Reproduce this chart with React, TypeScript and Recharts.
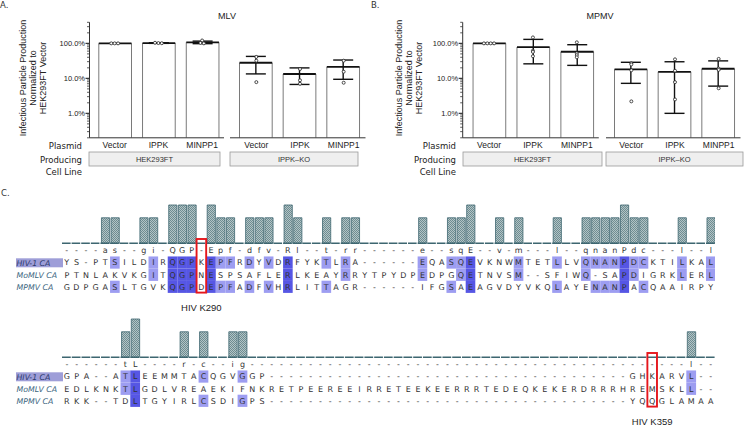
import React from "react";
import { Bar, BarChart, ComposedChart, ErrorBar, Line, XAxis, YAxis } from "recharts";

// ---------- A / B: infectious particle production (% of HEK293FT vector) ----------
const CATS = ["Vector", "IPPK", "MINPP1"];

const mlvHekMean = [100, 102, 107];
const mlvHekSd = [0, 2, 9];
const mlvHekReps = [[100, 100, 100], [104, 102, 101], [121, 103, 100]];
const mlvKoMean = [27.9, 13.3, 21.4];
const mlvKoSd = [14.5, 6.6, 12];
const mlvKoReps = [[41, 32, 7.8], [18.5, 8.8, 7], [32, 15.5, 7.5]];

const mpmvHekMean = [100, 78, 57.5];
const mpmvHekSd = [0, 52, 34];
const mpmvHekReps = [[100, 100, 100, 100], [148, 62, 57, 43], [107, 52, 46, 40]];
const mpmvKoMean = [18, 15.4, 18.8];
const mpmvKoSd = [10.8, 14.4, 12.8];
const mpmvKoReps = [[27, 25, 17, 2.2], [35, 16.5, 7.8, 2.5], [36, 19, 17.5, 5.2]];

const Y_TICKS = [
  0.2, 0.3, 0.4, 0.5, 0.6, 0.7, 0.8, 0.9, 1, 2, 3, 4, 5, 6, 7, 8, 9, 10, 20, 30, 40, 50, 60, 70,
  80, 90, 100, 200, 300, 400,
];
const Y_MAJOR = [1, 10, 100];

// ---------- C: capsid alignment ----------
const cons1 = "----as--gi-QGP-Epf-dfv-Rl--t-rr------e--sqE--v-m---l--qnanPdc---l--l";
const hiv1 = "YS-PTSILDIRQGPKEPFRDYVDRFYKTLRA------EQASQEVKNWMTETLLVQNANPDCKTILKAL";
const momlv1 = "PTNLAKVKGITQGPNESPSAFLERLKEAYRRYTPYDPEDPGQETNVSM--SFIWQ-SAPDIGRKLERL";
const mpmv1 = "GDPGASLTGVKQGPDEPFADFVHRLITTAGR------IFGSAEAGVDYVKQLAYENANPACQAAIRPY";
const cons1Height = "0000220022" + "0333032202" + "2203200202" + "2000000200" + "2230020200" + "0200222232" + "20002002";

const cons2 = "------tL----r-c--ig" + "----------" + "----------" + "----------" + "----------" + "-----" + "l--";
const hiv2 = "GPA--ATLEEMMTACQGVGGP" + "----------" + "----------" + "----------" + "-------" + "GHKARVL--";
const momlv2 = "EDLKNKTLGDLVREAEKIFNKRETPEEREEIRRETEEKEERRRTEDEQKEKERDRRRHREMSKLL--";
const mpmv2 = "RKK--TDLTGYIRLCSDIGPS" + "----------" + "----------" + "----------" + "-------" + "YQQGLAMAA";
const cons2Height = "0000002300" + "0020200220" + "0000000000" + "0000000000" + "0000000000" + "0000000000" + "0000200";

const SEQ_NAMES = ["HIV-1 CA", "MoMLV CA", "MPMV CA"];

const SANS = "'Liberation Sans', Arial, sans-serif";
const VERD = "'DejaVu Sans', Verdana, sans-serif";
const DARK = "#5656e4";
const LIGHT = "#9d9df1";

function buildRows(mean: number[], sd: number[], reps: number[][]) {
  return CATS.map((cat, i) => {
    const row: Record<string, any> = { cat, mean: mean[i], sd: sd[i], reps: reps[i] };
    reps[i].forEach((v, k) => (row["r" + k] = v));
    return row;
  });
}

// spread replicates that sit on the same value side by side
function dodge(vals: number[], k: number) {
  const v = vals[k];
  const near = vals
    .map((u, j) => ({ u, j }))
    .filter((o) => Math.abs(Math.log10(o.u) - Math.log10(v)) < 0.02);
  const pos = near.findIndex((o) => o.j === k);
  return (pos - (near.length - 1) / 2) * 3.4;
}

const makeDot = (k: number) => (p: any) => {
  if (p.cx == null || p.cy == null || p.value == null) return <g key={p.key} />;
  const dx = dodge(p.payload.reps, k);
  return (
    <circle key={p.key} cx={p.cx + dx} cy={p.cy} r={1.5} fill="#fff" stroke="#222" strokeWidth={0.8} />
  );
};

const barShape = (p: any) => {
  const { x, y, width, height } = p;
  return (
    <g>
      <rect x={x} y={y} width={width} height={height} fill="#fff" />
      <line x1={x} y1={y} x2={x} y2={y + height} stroke="#7a7a7a" strokeWidth={1} />
      <line x1={x + width} y1={y} x2={x + width} y2={y + height} stroke="#7a7a7a" strokeWidth={1} />
      <line x1={x} y1={y} x2={x + width} y2={y} stroke="#111" strokeWidth={1.8} />
    </g>
  );
};

const yTick = (p: any) => {
  const { x, y, payload } = p;
  const v = payload.value as number;
  const major = Y_MAJOR.includes(v);
  return (
    <g>
      <line x1={x - (major ? 4 : 2.5)} x2={x} y1={y} y2={y} stroke="#333" strokeWidth={major ? 1.2 : 0.8} />
      {major && (
        <text x={x - 4.5} y={y} dy="0.35em" textAnchor="end" fontSize={7.5} fontFamily={SANS} fill="#222">
          {v.toFixed(1)}%
        </text>
      )}
    </g>
  );
};

const catTick = (p: any) => (
  <text x={p.x} y={p.y + 10.3} textAnchor="middle" fontSize={8.5} fontFamily={SANS} fill="#222">
    {p.payload.value}
  </text>
);

function GroupPlot({ rows, left, width, axisW, padLeft }: { rows: any[]; left: number; width: number; axisW: number; padLeft: number }) {
  const nReps = Math.max(...rows.map((r) => r.reps.length));
  return (
    <div style={{ position: "absolute", left, top: 0 }}>
      <ComposedChart width={width} height={160} data={rows} margin={{ top: 22.3, right: 0, bottom: 0, left: 0 }}>
        <XAxis
          dataKey="cat"
          height={22.2}
          padding={{ left: padLeft, right: 0 }}
          axisLine={{ stroke: "#333" }}
          tickLine={false}
          tickSize={0}
          tickMargin={0}
          interval={0}
          tick={catTick}
        />
        <YAxis
          hide={axisW === 0}
          width={axisW}
          scale="log"
          domain={[0.2, 400]}
          allowDataOverflow
          ticks={Y_TICKS}
          interval={0}
          tickSize={0}
          tickMargin={0}
          tickLine={false}
          axisLine={{ stroke: "#333" }}
          tick={yTick}
        />
        <Bar dataKey="mean" barSize={32.7} shape={barShape} isAnimationActive={false}>
          <ErrorBar dataKey="sd" width={10} stroke="#111" strokeWidth={1.4} direction="y" isAnimationActive={false} />
        </Bar>
        {Array.from({ length: nReps }, (_, k) => (
          <Line
            key={k}
            dataKey={"r" + k}
            stroke="none"
            dot={makeDot(k)}
            activeDot={false}
            isAnimationActive={false}
          />
        ))}
      </ComposedChart>
    </div>
  );
}

function matchLevel(seqs: string[], r: number, i: number) {
  const ref = seqs[0][i];
  if (ref === "-" || seqs[r][i] !== ref) return 0;
  const n = seqs.filter((s) => s[i] === ref).length;
  return n >= 2 ? n : 0;
}

const ROW_H = [13, 12.5, 12, 12];

function AlignBlock({ top, cons, seqs, heights, mark, markLabel, pid }: { top: number; cons: string; seqs: string[]; heights: string; mark: number; markLabel: string; pid: string }) {
  const W = 653.6;
  const bw = W / cons.length;
  const data = heights.split("").map((h, i) => ({ i, h: Number(h) }));

  const consTick = (p: any) => (
    <text x={p.x} y={p.y + ROW_H[0] / 2} dy="0.35em" textAnchor="middle" fontSize={8} fontFamily={VERD} fill="#333">
      {cons[p.payload.value]}
    </text>
  );
  const seqTick = (r: number) => (p: any) => {
    const i = p.payload.value as number;
    const h = ROW_H[r + 1];
    const lvl = matchLevel(seqs, r, i);
    return (
      <g>
        {lvl > 0 && (
          <rect x={p.x - bw / 2} y={p.y + h / 2 - 6.1} width={bw} height={12.2} fill={lvl === 3 ? DARK : LIGHT} />
        )}
        <text x={p.x} y={p.y + h / 2} dy="0.35em" textAnchor="middle" fontSize={8} fontFamily={VERD} fill="#333">
          {seqs[r][i]}
        </text>
      </g>
    );
  };
  const markTick = (p: any) => {
    if (p.payload.value !== mark) return <g />;
    return (
      <g>
        <rect x={p.x - 4.8} y={p.y - 53.8} width={9.6} height={53.6} fill="none" stroke="#e5161c" strokeWidth={1.9} />
        <text x={p.x} y={p.y + 15} dy="0.35em" textAnchor="middle" fontSize={9.5} fontFamily={SANS} fill="#222">
          {markLabel}
        </text>
      </g>
    );
  };

  // axis ids sort alphabetically when stacked, so they carry an order prefix
  return (
    <div style={{ position: "absolute", left: 61.9, top }}>
      <BarChart width={W} height={115.8} data={data} margin={{ top: 5, right: 0, bottom: 22, left: 0 }}>
        <defs>
          <pattern id={pid} width="2" height="2" patternUnits="userSpaceOnUse">
            <rect width="2" height="2" fill="#b3c4c6" />
            <rect width="1" height="1" fill="#6e8c91" />
            <rect x="1" y="1" width="1" height="1" fill="#6e8c91" />
          </pattern>
        </defs>
        <YAxis hide domain={[0, 3]} />
        <Bar xAxisId="a0cons" dataKey="h" barSize={bw - 1.4} fill={`url(#${pid})`} stroke="#3d6670" strokeWidth={0.8} isAnimationActive={false} />
        <XAxis
          xAxisId="a0cons"
          dataKey="i"
          height={ROW_H[0]}
          axisLine={{ stroke: "#3d6670", strokeWidth: 1.6, strokeDasharray: `${bw - 1} 1` }}
          tickLine={false}
          tickSize={0}
          tickMargin={0}
          interval={0}
          tick={consTick}
        />
        {seqs.map((_, r) => (
          <XAxis
            key={r}
            xAxisId={"a" + (r + 1) + "seq"}
            dataKey="i"
            height={ROW_H[r + 1]}
            axisLine={false}
            tickLine={false}
            tickSize={0}
            tickMargin={0}
            interval={0}
            tick={seqTick(r)}
          />
        ))}
        <XAxis xAxisId="a9mark" dataKey="i" height={1} axisLine={false} tickLine={false} tickSize={0} tickMargin={0} interval={0} tick={markTick} />
      </BarChart>
    </div>
  );
}

function SideText({ ox }: { ox: number }) {
  return (
    <>
      {["Plasmid", "Producing", "Cell Line"].map((t, i) => (
        <text key={t} x={ox} y={[146.3, 160.5, 172.5][i]} dy="0.35em" textAnchor="end" fontSize={8.5} fontFamily={VERD} fill="#222">
          {t}
        </text>
      ))}
    </>
  );
}

function YTitle({ cx }: { cx: number }) {
  const lines = ["Infectious Particle Production", "Normalized to", "HEK293FT Vector"];
  return (
    <>
      {lines.map((t, i) => (
        <text
          key={t}
          x={cx + (i - 1) * 9.8}
          y={78}
          dy="0.35em"
          textAnchor="middle"
          fontSize={9}
          fontFamily={SANS}
          fill="#222"
          transform={`rotate(-90 ${cx + (i - 1) * 9.8} 78)`}
        >
          {t}
        </text>
      ))}
    </>
  );
}

function CellBox({ x1, x2, label }: { x1: number; x2: number; label: string }) {
  return (
    <g>
      <rect x={x1} y={152} width={x2 - x1} height={14} fill="#efefef" stroke="#9a9a9a" strokeWidth={0.8} />
      <text x={(x1 + x2) / 2} y={159} dy="0.35em" textAnchor="middle" fontSize={7.5} fontFamily={SANS} fill="#333">
        {label}
      </text>
    </g>
  );
}

export default function App() {
  const rowY1 = [262.8, 274.8, 286.8];
  const rowY2 = rowY1.map((y) => y + 114);
  return (
    <div style={{ position: "absolute", left: 0, top: 0, width: 745, height: 427, background: "#fff", overflow: "hidden" }}>
      <svg width={745} height={427} style={{ position: "absolute", left: 0, top: 0 }}>
        <text x={0} y={5} dy="0.35em" fontSize={8.5} fontFamily={VERD} fill="#333">A.</text>
        <text x={371} y={5.5} dy="0.35em" fontSize={8.5} fontFamily={VERD} fill="#333">B.</text>
        <text x={1} y={193} dy="0.35em" fontSize={8.5} fontFamily={VERD} fill="#333">C.</text>
        <text x={227} y={16} dy="0.35em" textAnchor="middle" fontSize={9} fontFamily={SANS} fill="#222">MLV</text>
        <text x={600} y={16} dy="0.35em" textAnchor="middle" fontSize={9} fontFamily={SANS} fill="#222">MPMV</text>
        <YTitle cx={33} />
        <YTitle cx={409} />
        <SideText ox={82} />
        <SideText ox={456} />
        <CellBox x1={89} x2={220} label="HEK293FT" />
        <CellBox x1={230} x2={358} label="IPPK–KO" />
        <CellBox x1={463} x2={602} label="HEK293FT" />
        <CellBox x1={606} x2={743} label="IPPK–KO" />
        {[rowY1, rowY2].map((ys, b) =>
          ys.map((y, r) => (
            <g key={`${b}-${r}`}>
              {r === 0 && <rect x={16} y={y - 4.5} width={47} height={9} fill="#9e9ed8" />}
              <text x={16.5} y={y} dy="0.35em" fontSize={7.8} fontStyle="italic" fontFamily={VERD} fill={r === 0 ? "#2b3a6e" : "#3d6680"}>
                {SEQ_NAMES[r]}
              </text>
            </g>
          ))
        )}
      </svg>

      <GroupPlot rows={buildRows(mlvHekMean, mlvHekSd, mlvHekReps)} left={0} width={224} axisW={89.5} padLeft={3.3} />
      <GroupPlot rows={buildRows(mlvKoMean, mlvKoSd, mlvKoReps)} left={230} width={135.5} axisW={0} padLeft={4.5} />
      <GroupPlot rows={buildRows(mpmvHekMean, mpmvHekSd, mpmvHekReps)} left={373} width={225.8} axisW={89.7} padLeft={4.35} />
      <GroupPlot rows={buildRows(mpmvKoMean, mpmvKoSd, mpmvKoReps)} left={606} width={134.5} axisW={0} padLeft={3.5} />

      <AlignBlock top={200} cons={cons1} seqs={[hiv1, momlv1, mpmv1]} heights={cons1Height} mark={14} markLabel="HIV K290" pid="hatch1" />
      <AlignBlock top={314} cons={cons2} seqs={[hiv2, momlv2, mpmv2]} heights={cons2Height} mark={60} markLabel="HIV K359" pid="hatch2" />
    </div>
  );
}
